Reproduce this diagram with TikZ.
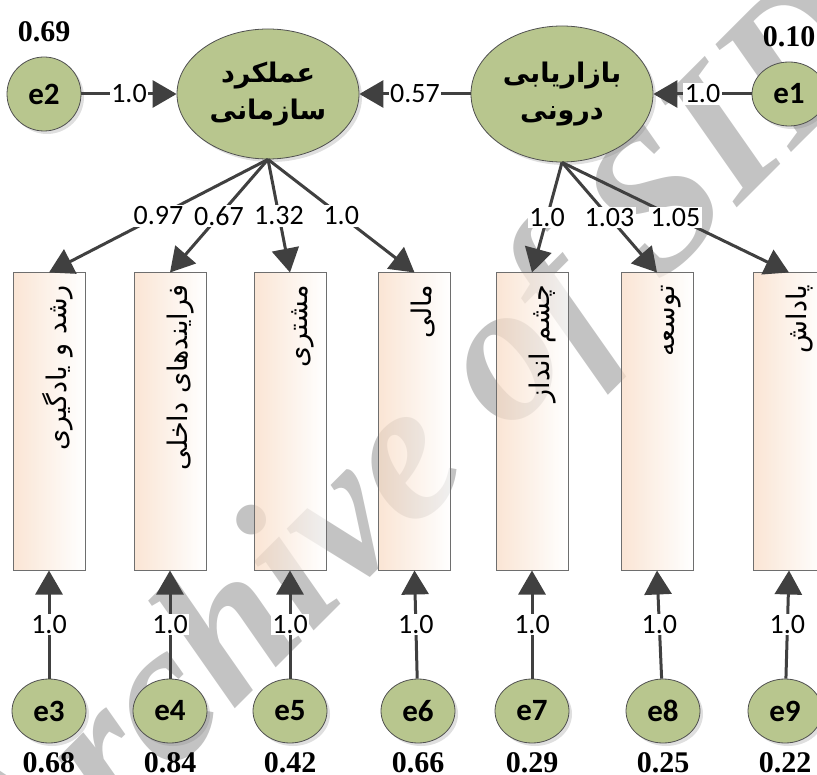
\documentclass[tikz,border=0pt]{standalone}
\usepackage{fontspec}
\setmainfont{Liberation Serif}
\newfontfamily\farsi[Script=Arabic]{DejaVu Sans}
\newfontfamily\calib{Carlito}
\TeXXeTstate=1
\usetikzlibrary{arrows.meta,positioning,shapes.geometric,shadows}

\definecolor{latgreen}{RGB}{184,198,142}
\definecolor{arrowgray}{RGB}{64,64,64}
\definecolor{linegray}{RGB}{80,80,80}
\definecolor{boxgray}{RGB}{110,110,110}
\definecolor{peach}{RGB}{248,220,198}
\definecolor{wmgray}{RGB}{195,195,195}

\newcommand{\fa}[1]{\beginR #1\endR}

\begin{document}
\begin{tikzpicture}[x=1pt,y=-1pt,on grid,
    lat/.style={ellipse,draw=linegray,line width=0.8pt,fill=latgreen,
      minimum width=182pt,minimum height=130pt,align=center,
      font=\farsi\bfseries\fontsize{27}{37}\selectfont,
      drop shadow={opacity=0.25,shadow xshift=3pt,shadow yshift=-3pt}},
    err/.style={ellipse,draw=linegray,line width=0.8pt,fill=latgreen,
      minimum width=74pt,minimum height=64pt,inner sep=0pt,
      font=\calib\bfseries\fontsize{31}{31}\selectfont,
      drop shadow={opacity=0.25,shadow xshift=3pt,shadow yshift=-3pt}},
    ind/.style={rectangle,draw=boxgray,line width=1pt,rotate=90,
      minimum width=297pt,minimum height=72pt,inner xsep=12pt,
      text width=273pt,align=right,text height=34pt,text depth=0pt,
      left color=peach,right color=white,
      fill opacity=0.75,text opacity=1,draw opacity=1,
      font=\farsi\fontsize{27}{30}\selectfont},
    var/.style={font=\bfseries\fontsize{30}{30}\selectfont},
    lbl/.style={fill=white,text=black,inner sep=1.5pt,font=\calib\fontsize{28}{28}\selectfont},
    link/.style={-{Triangle[length=24pt,width=27pt]},line width=3pt,arrowgray}]
  \useasboundingbox (0,0) rectangle (817,775);

  % watermark
  \node[rotate=45,text=wmgray,font=\bfseries\itshape\fontsize{198}{198}\selectfont] (wm) at (424,452) {Archive of SID};

  % indicators
  \node[ind] (m_1) at (49,421.5)            {\fa{رشد و یادگیری}};
  \node[ind] (m_2) [right=121pt of m_1]     {\fa{فرایندهای داخلی}};
  \node[ind] (m_3) [right=120pt of m_2]     {\fa{مشتری}};
  \node[ind] (m_4) [right=124.5pt of m_3]   {\fa{مالی}};
  \node[ind] (m_5) [right=117.5pt of m_4]   {\fa{چشم انداز}};
  \node[ind] (m_6) [right=125pt of m_5]     {\fa{توسعه}};
  \node[ind] (m_7) [right=132pt of m_6]     {\fa{پاداش}};

  % latent variables
  \node[lat] (f_org) at (268,94)                                 {\fa{عملکرد}\\\fa{سازمانی}};
  \node[lat,minimum height=136pt] (f_mkt) [right=294pt of f_org] {\fa{بازاریابی}\\\fa{درونی}};

  % errors
  \node[err,minimum height=74pt] (e_2) [left=224pt of f_org]  {e2};
  \node[err] (e_1) [right=227pt of f_mkt]                     {e1};
  \node[err] (e_3) [below=289.5pt of m_1]                     {e3};
  \node[err] (e_4) [below=289.5pt of m_2]                     {e4};
  \node[err] (e_5) [below=289.5pt of m_3]                     {e5};
  \node[err] (e_6) [below right=289.5pt and 3.5pt of m_4]     {e6};
  \node[err] (e_7) [below=289.5pt of m_5]                     {e7};
  \node[err] (e_8) [below right=289.5pt and 6pt of m_6]       {e8};
  \node[err] (e_9) [below left=289.5pt and 4pt of m_7]        {e9};

  % variances
  \node[var] (v_2) [above=62pt of e_2] {0.69};
  \node[var] (v_1) [above=57pt of e_1] {0.10};
  \node[var] (v_3) [below=52pt of e_3] {0.68};
  \node[var] (v_4) [below=52pt of e_4] {0.84};
  \node[var] (v_5) [below=52pt of e_5] {0.42};
  \node[var] (v_6) [below=52pt of e_6] {0.66};
  \node[var] (v_7) [below=52pt of e_7] {0.29};
  \node[var] (v_8) [below=52pt of e_8] {0.25};
  \node[var] (v_9) [below=52pt of e_9] {0.22};

  \path[link]
    (e_2)   edge node[lbl] {1.0}  (f_org)
    (f_mkt) edge node[lbl] {0.57} (f_org)
    (e_1)   edge node[lbl] {1.0}  (f_mkt)
    (f_org.south) edge node[lbl] {0.97} (m_1.east)
    (f_org.south) edge node[lbl] {0.67} (m_2.east)
    (f_org.south) edge node[lbl] {1.32} (m_3.east)
    (f_org.south) edge node[lbl] {1.0}  (m_4.east)
    (f_mkt.south) edge node[lbl] {1.0}  (m_5.east)
    (f_mkt.south) edge node[lbl] {1.03} (m_6.east)
    (f_mkt.south) edge node[lbl] {1.05} (m_7.east)
    (e_3) edge node[lbl] {1.0} (m_1.west)
    (e_4) edge node[lbl] {1.0} (m_2.west)
    (e_5) edge node[lbl] {1.0} (m_3.west)
    (e_6) edge node[lbl] {1.0} (m_4.west)
    (e_7) edge node[lbl] {1.0} (m_5.west)
    (e_8) edge node[lbl] {1.0} (m_6.west)
    (e_9) edge node[lbl] {1.0} (m_7.west);
\end{tikzpicture}
\end{document}
